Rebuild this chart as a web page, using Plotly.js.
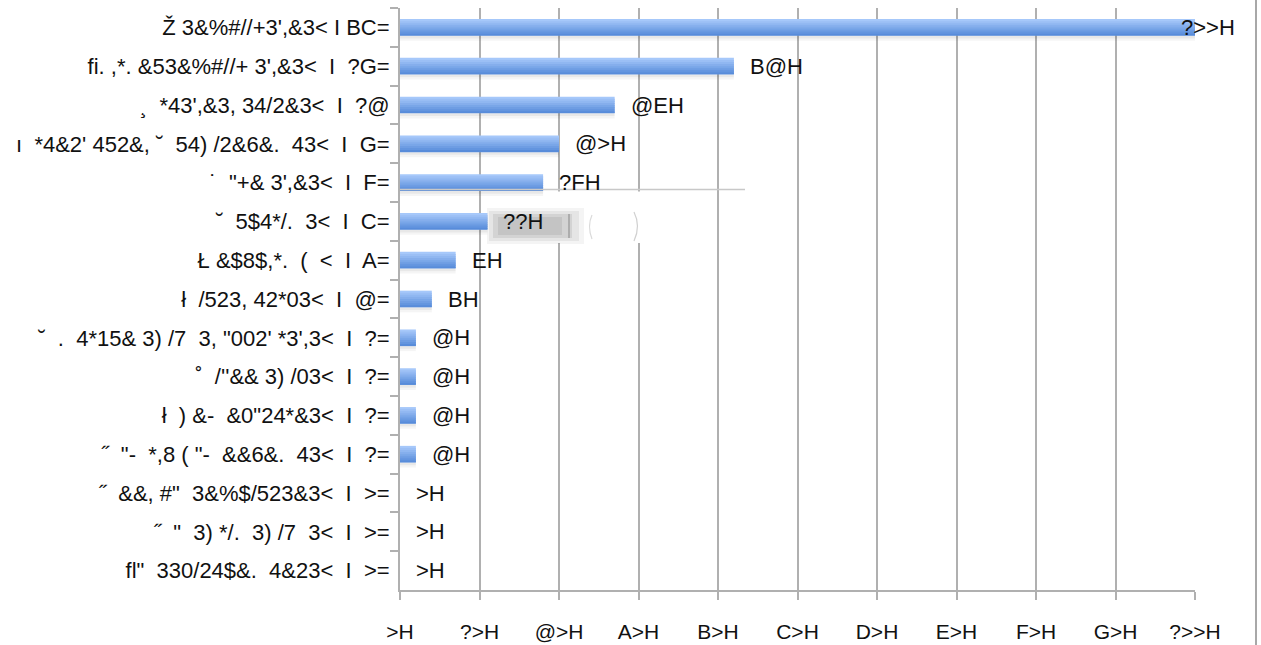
<!DOCTYPE html>
<html>
<head>
<meta charset="utf-8">
<script src="https://cdn.plot.ly/plotly-3.0.1.min.js"></script>
<style>
  html, body { margin: 0; padding: 0; background: #ffffff; }
  #chart { width: 1261px; height: 645px; }
</style>
</head>
<body>
<div id="chart"></div>
<script>
// Category labels, top to bottom (\u00A0 keeps the wider gaps)
const categories = [
  "Ž 3&%#//+3',&3< I BC=",
  "fi. ,*. &53&%#//+ 3',&3<\u00A0 I\u00A0 ?G=",
  "¸\u00A0 *43',&3, 34/2&3<\u00A0 I\u00A0 ?@",
  "ı\u00A0 *4&2' 452&, ˘\u00A0 54) /2&6&.\u00A0 43<\u00A0 I\u00A0 G=",
  "˙\u00A0 \"+& 3',&3<\u00A0 I\u00A0 F=",
  "˘\u00A0 5$4*/.\u00A0 3<\u00A0 I\u00A0 C=",
  "Ł &$8$,*.\u00A0 (\u00A0 <\u00A0 I\u00A0 A=",
  "ł\u00A0 /523, 42*03<\u00A0 I\u00A0 @=",
  "˘\u00A0 .\u00A0 4*15& 3) /7\u00A0 3, \"002' *3',3<\u00A0 I\u00A0 ?=",
  "˚\u00A0 /''&& 3) /03<\u00A0 I\u00A0 ?=",
  "ł\u00A0 ) &-\u00A0 &0\"24*&3<\u00A0 I\u00A0 ?=",
  "˝\u00A0 \"-\u00A0 *,8 ( \"-\u00A0 &&6&.\u00A0 43<\u00A0 I\u00A0 ?=",
  "˝\u00A0 &&, #\"\u00A0 3&%$/523&3<\u00A0 I\u00A0 >=",
  "˝\u00A0 \"\u00A0 3) */.\u00A0 3) /7\u00A0 3<\u00A0 I\u00A0 >=",
  "fl\"\u00A0 330/24$&.\u00A0 4&23<\u00A0 I\u00A0 >="
];

// Share of respondents (%)
const values = [100, 42, 27, 20, 18, 11, 7, 4, 2, 2, 2, 2, 0, 0, 0];

// Value labels printed beside each bar
const valueLabels = ["?>>H", "B@H", "@EH", "@>H", "?FH", "??H", "EH", "BH",
                     "@H", "@H", "@H", "@H", ">H", ">H", ">H"];

// X axis ticks
const tickValues = [0, 10, 20, 30, 40, 50, 60, 70, 80, 90, 100];
const tickLabels = [">H", "?>H", "@>H", "A>H", "B>H", "C>H", "D>H", "E>H", "F>H", "G>H", "?>>H"];

const FONT = "Liberation Sans, Arial, sans-serif";
const GRID = "#b0b0b0";

// escape characters that Plotly would otherwise read as markup
function esc(s) {
  return s.replace(/&/g, "&amp;").replace(/</g, "&lt;").replace(/>/g, "&gt;");
}

const cats = categories.map(esc);

// Bars drawn as overlapping horizontal stripes: a top-to-bottom blue gradient
const BAR_W = 0.43;
const STRIPES = 8;
const step = BAR_W / STRIPES;
const topRGB = [166, 200, 250];
const botRGB = [88, 140, 218];
const traces = [];

// soft shadow under each bar
traces.push({
  type: "bar", orientation: "h", x: values, y: cats,
  width: 0.07, offset: BAR_W / 2,
  marker: { color: "rgba(0,0,0,0.09)", line: { width: 0 } },
  hoverinfo: "skip", showlegend: false
});
traces.push({
  type: "bar", orientation: "h", x: values, y: cats,
  width: 0.06, offset: BAR_W / 2 + 0.07,
  marker: { color: "rgba(0,0,0,0.04)", line: { width: 0 } },
  hoverinfo: "skip", showlegend: false
});

for (let k = 0; k < STRIPES; k++) {
  const t = k / (STRIPES - 1);
  const c = topRGB.map((v, i) => Math.round(v + (botRGB[i] - v) * t));
  traces.push({
    type: "bar", orientation: "h", x: values, y: cats,
    width: k < STRIPES - 1 ? step * 1.8 : step,
    offset: -BAR_W / 2 + k * step,
    marker: { color: `rgb(${c[0]},${c[1]},${c[2]})`, line: { width: 0 } },
    hoverinfo: "skip", showlegend: false
  });
}

// value annotations
const annotations = values.map((v, i) => ({
  x: v, y: cats[i], xref: "x", yref: "y",
  text: esc(valueLabels[i]),
  showarrow: false, xanchor: "left", yanchor: "middle",
  xshift: v >= 100 ? -16 : 14,
  font: { family: FONT, size: 22, color: "#111111" }
}));

// plot area geometry (pixels) for decorative shapes
const M = { l: 400, r: 66, t: 8, b: 55 };
const W = 1261, H = 645;
const pw = W - M.l - M.r, ph = H - M.t - M.b;
const px = (x) => (x - M.l) / pw;
const py = (y) => (H - M.b - y) / ph;

const shapes = [
  // outer frame edge on the right
  { type: "line", xref: "paper", yref: "paper",
    x0: px(1256), x1: px(1256), y0: py(645), y1: py(0),
    line: { color: "#a8a8a8", width: 2 } },
  // stray horizontal rule
  { type: "line", xref: "paper", yref: "paper",
    x0: px(400), x1: px(745), y0: py(189.5), y1: py(189.5),
    line: { color: "#c8c8c8", width: 1.5 } },
  // white patch over grid lines
  { type: "rect", xref: "paper", yref: "paper", layer: "above",
    x0: px(545), x1: px(645), y0: py(243), y1: py(191.5),
    fillcolor: "#ffffff", line: { width: 0 } },
  // faint bracket marks
  { type: "path", xref: "paper", yref: "paper", layer: "above",
    path: `M ${px(634)} ${py(212)} Q ${px(641)} ${py(226)} ${px(634)} ${py(241)}`,
    line: { color: "#d0d0d0", width: 1.2 } },
  { type: "path", xref: "paper", yref: "paper", layer: "above",
    path: `M ${px(592)} ${py(215)} Q ${px(587)} ${py(226)} ${px(592)} ${py(239)}`,
    line: { color: "#dadada", width: 1.2 } },
  // grey smudge behind the 11% label
  { type: "rect", xref: "paper", yref: "paper", layer: "above",
    x0: px(487), x1: px(584), y0: py(244), y1: py(208),
    fillcolor: "rgba(0,0,0,0.045)", line: { width: 0 } },
  { type: "rect", xref: "paper", yref: "paper", layer: "above",
    x0: px(489), x1: px(579), y0: py(241), y1: py(211),
    fillcolor: "rgba(0,0,0,0.06)", line: { width: 0 } },
  { type: "rect", xref: "paper", yref: "paper", layer: "above",
    x0: px(493), x1: px(572), y0: py(238), y1: py(214),
    fillcolor: "rgba(0,0,0,0.08)", line: { width: 0 } },
  { type: "rect", xref: "paper", yref: "paper", layer: "above",
    x0: px(498), x1: px(562), y0: py(235), y1: py(217),
    fillcolor: "rgba(0,0,0,0.07)", line: { width: 0 } },
  { type: "line", xref: "paper", yref: "paper", layer: "above",
    x0: px(569), x1: px(569), y0: py(238), y1: py(214),
    line: { color: "#a0a0a0", width: 1.5 } }
];

const layout = {
  width: W, height: H,
  margin: M,
  paper_bgcolor: "#ffffff",
  plot_bgcolor: "#ffffff",
  barmode: "overlay",
  showlegend: false,
  font: { family: FONT, size: 20, color: "#111111" },
  xaxis: {
    range: [0, 100],
    tickvals: tickValues,
    ticktext: tickLabels.map(esc),
    showgrid: true, gridcolor: GRID, gridwidth: 2,
    zeroline: false,
    showline: true, linecolor: GRID, linewidth: 2,
    ticks: "outside", ticklen: 8, tickwidth: 2, tickcolor: GRID,
    ticklabelstandoff: 14,
    tickfont: { family: FONT, size: 21, color: "#111111" },
    fixedrange: true
  },
  yaxis: {
    type: "category",
    autorange: "reversed",
    categoryorder: "array", categoryarray: cats,
    showgrid: false, zeroline: false,
    showline: true, linecolor: GRID, linewidth: 2,
    ticks: "outside", ticklen: 8, tickwidth: 2, tickcolor: GRID,
    tickson: "boundaries",
    ticklabelstandoff: 4,
    tickfont: { family: FONT, size: 22, color: "#111111" },
    fixedrange: true
  },
  annotations: annotations,
  shapes: shapes
};

Plotly.newPlot("chart", traces, layout, { staticPlot: true, displayModeBar: false });
</script>
</body>
</html>
